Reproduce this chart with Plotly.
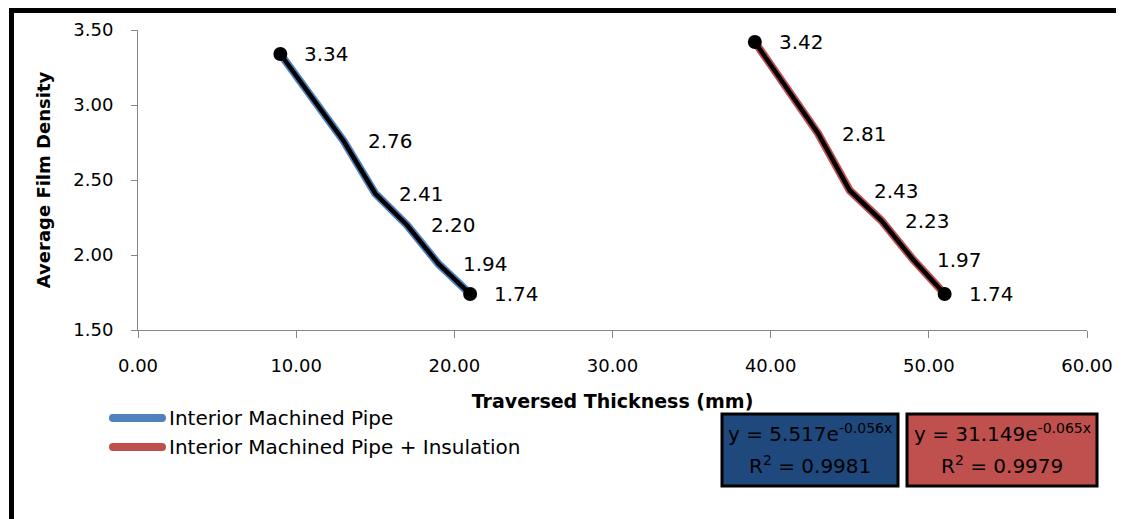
import plotly.graph_objects as go

# ---- data ----
x_pipe = [9, 13, 15, 17, 19, 21]
y_pipe = [3.34, 2.76, 2.41, 2.20, 1.94, 1.74]
x_ins = [39, 43, 45, 47, 49, 51]
y_ins = [3.42, 2.81, 2.43, 2.23, 1.97, 1.74]
series_names = ["Interior Machined Pipe", "Interior Machined Pipe + Insulation"]
series_colors = ["#4F81BD", "#C0504D"]
box_colors = ["#1F497D", "#C0504D"]
fit_eq = ["y = 5.517e<sup>-0.056x</sup>", "y = 31.149e<sup>-0.065x</sup>"]
fit_r2 = ["R<sup>2</sup> = 0.9981", "R<sup>2</sup> = 0.9979"]
x_ticks = [0, 10, 20, 30, 40, 50, 60]
y_ticks = [1.5, 2.0, 2.5, 3.0, 3.5]

OFF = 8  # page body margin
W, H = 1124 - OFF, 519 - OFF
L, R, T, B = 138, 1087, 30, 330  # plot area in page pixels
FONT = "DejaVu Sans"


def px(x):
    return (x - L) / (R - L)


def py(y):
    return (B - y) / (B - T)


fig = go.Figure()
shapes = []
annotations = []

for xs, ys, col in [(x_pipe, y_pipe, series_colors[0]), (x_ins, y_ins, series_colors[1])]:
    fig.add_trace(go.Scatter(x=xs, y=ys, mode="lines",
                             line=dict(color=col, width=8), showlegend=False,
                             hoverinfo="skip"))
    sizes = [14 if i in (0, len(xs) - 1) else 0 for i in range(len(xs))]
    fig.add_trace(go.Scatter(x=xs, y=ys, mode="lines+markers",
                             line=dict(color="black", width=4.5),
                             marker=dict(color="black", size=sizes, opacity=1,
                                         line=dict(width=0)),
                             showlegend=False))
    for xv, yv in zip(xs, ys):
        annotations.append(dict(x=xv, y=yv, xref="x", yref="y", text=f"{yv:.2f}",
                                showarrow=False, xanchor="left", yanchor="middle",
                                xshift=22, font=dict(family=FONT, size=20, color="black")))

# outer frame
shapes.append(dict(type="rect", xref="paper", yref="paper",
                   x0=px(11.5), x1=px(1140), y0=py(560), y1=py(10.5),
                   line=dict(color="black", width=5), fillcolor="rgba(0,0,0,0)", layer="above"))

# manual legend
for i, (name, col) in enumerate(zip(series_names, series_colors)):
    yc = 418 + 29 * i
    shapes.append(dict(type="line", xref="paper", yref="paper",
                       x0=px(113), x1=px(162), y0=py(yc), y1=py(yc),
                       line=dict(color=col, width=8)))
    for xe in (113, 162):
        shapes.append(dict(type="circle", xref="paper", yref="paper",
                           x0=px(xe - 4), x1=px(xe + 4), y0=py(yc + 4), y1=py(yc - 4),
                           line=dict(width=0), fillcolor=col))
    annotations.append(dict(x=px(167), y=py(yc), xref="paper", yref="paper", text=name,
                            showarrow=False, xanchor="left", yanchor="middle",
                            font=dict(family=FONT, size=20, color="black")))

# trendline equation boxes
boxes = [(722, 898), (907, 1097)]
for (bx0, bx1), fc, eq, r2 in zip(boxes, box_colors, fit_eq, fit_r2):
    shapes.append(dict(type="rect", xref="paper", yref="paper",
                       x0=px(bx0), x1=px(bx1), y0=py(486), y1=py(414),
                       line=dict(color="black", width=3), fillcolor=fc))
    xc = px((bx0 + bx1) / 2)
    annotations.append(dict(x=xc, y=py(433), xref="paper", yref="paper", text=eq,
                            showarrow=False, xanchor="center", yanchor="middle",
                            font=dict(family=FONT, size=20, color="black")))
    annotations.append(dict(x=xc, y=py(465), xref="paper", yref="paper", text=r2,
                            showarrow=False, xanchor="center", yanchor="middle",
                            font=dict(family=FONT, size=20, color="black")))

fig.update_layout(
    width=W, height=H,
    margin=dict(l=L - OFF, r=(1124 - OFF) - (R - OFF), t=T - OFF, b=(519 - OFF) - (B - OFF),
                autoexpand=False),
    paper_bgcolor="white", plot_bgcolor="white",
    showlegend=False,
    shapes=shapes, annotations=annotations,
    xaxis=dict(range=[0, 60], tickvals=x_ticks, tickformat=".2f",
               showgrid=False, zeroline=False, showline=True, linecolor="#868686",
               linewidth=1, ticks="outside", ticklen=7, tickcolor="#868686",
               ticklabelstandoff=12,
               tickfont=dict(family=FONT, size=18, color="black"),
               title=dict(text="<b>Traversed Thickness (mm)</b>", standoff=20,
                          font=dict(family=FONT, size=19, color="black"))),
    yaxis=dict(range=[1.5, 3.5], tickvals=y_ticks, tickformat=".2f",
               showgrid=False, zeroline=False, showline=True, linecolor="#868686",
               linewidth=1, ticks="outside", ticklen=6, tickcolor="#868686",
               ticklabelstandoff=14,
               tickfont=dict(family=FONT, size=18, color="black"),
               title=dict(text="<b>Average Film Density</b>", standoff=18,
                          font=dict(family=FONT, size=18, color="black"))),
)

fig.write_html("out.html")
